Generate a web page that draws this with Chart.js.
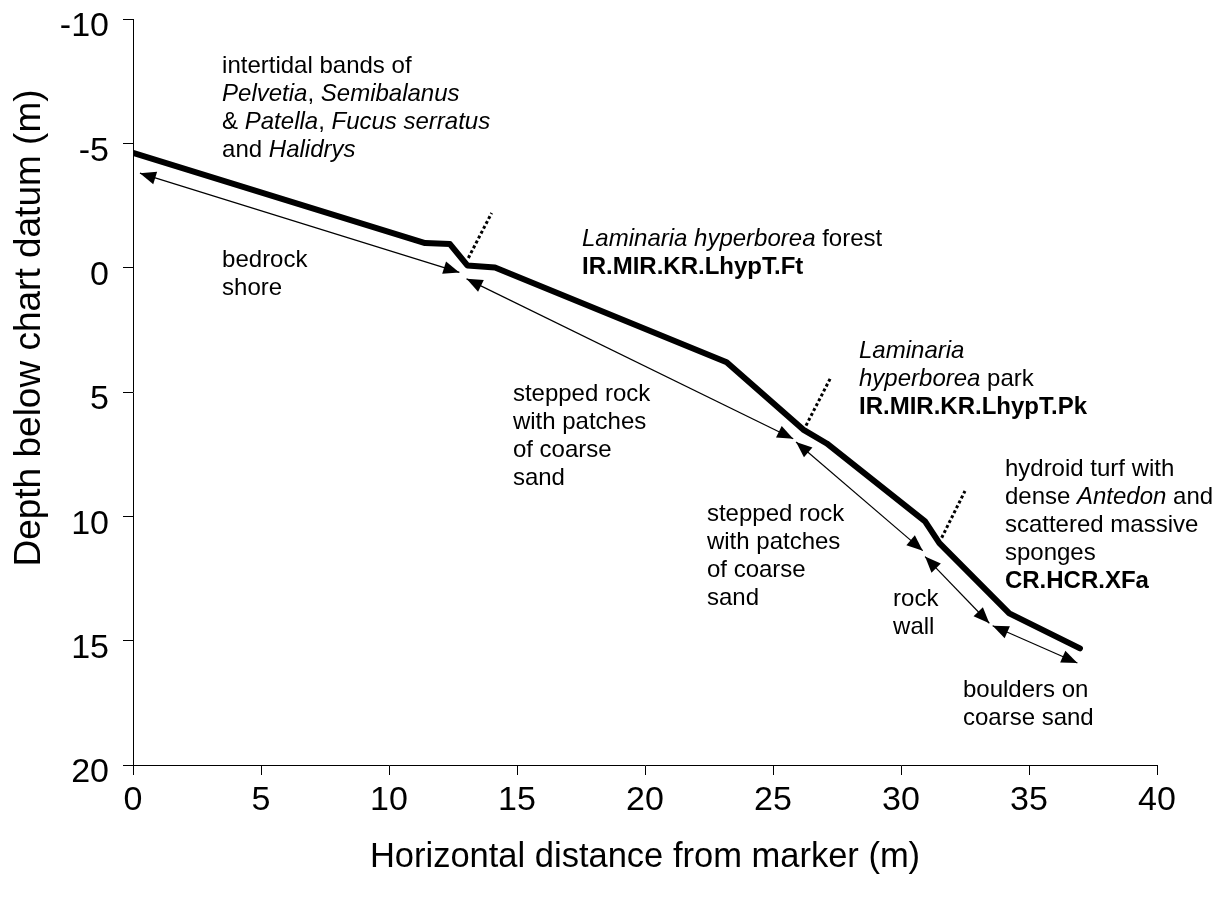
<!DOCTYPE html>
<html><head><meta charset="utf-8">
<script src="https://cdn.jsdelivr.net/npm/chart.js@4/dist/chart.umd.min.js"></script>
<style>html,body{margin:0;padding:0;background:#fff;}canvas{display:block;}</style>
</head><body>
<canvas id="c" width="1228" height="901"></canvas>
<script>
// ---- data (metres) ----
const distanceTicks = [0, 5, 10, 15, 20, 25, 30, 35, 40];
const depthTicks = [-10, -5, 0, 5, 10, 15, 20];

const profileDistance = [0, 11.41, 12.38, 13.06, 14.14, 23.19, 26.18, 27.1, 30.94, 31.5, 34.23, 36.99];
const profileDepth    = [-4.62, -0.99, -0.95, -0.09, -0.01, 3.8, 6.51, 7.07, 10.2, 11.08, 13.9, 15.31];

const arrowStartDistance = [0.27, 13.03, 25.9, 30.94, 33.58];
const arrowStartDepth    = [-3.8, 0.45, 7.01, 11.62, 14.4];
const arrowEndDistance   = [12.75, 25.79, 30.85, 33.45, 36.89];
const arrowEndDepth      = [0.19, 6.88, 11.38, 14.3, 15.9];

const boundaryStartDistance = [13.1, 26.29, 31.59];
const boundaryStartDepth    = [-0.39, 6.35, 10.86];
const boundaryEndDistance   = [14.01, 27.25, 32.5];
const boundaryEndDepth      = [-2.2, 4.43, 8.98];

// annotation anchors (distance, depth of first baseline) and rich text lines
const labelDistance = [3.48, 3.48, 17.54, 14.84, 28.36, 22.42, 34.06, 29.69, 32.42];
const labelDepth    = [-7.84, -0.04, -0.86, 5.37, 3.65, 10.2, 8.39, 13.61, 17.25];
const labelLines = [
  [[['n','intertidal bands of']], [['i','Pelvetia'],['n',', '],['i','Semibalanus']], [['n','& '],['i','Patella'],['n',', '],['i','Fucus serratus']], [['n','and '],['i','Halidrys']]],
  [[['n','bedrock']], [['n','shore']]],
  [[['i','Laminaria hyperborea'],['n',' forest']], [['b','IR.MIR.KR.LhypT.Ft']]],
  [[['n','stepped rock']], [['n','with patches']], [['n','of coarse']], [['n','sand']]],
  [[['i','Laminaria']], [['i','hyperborea'],['n',' park']], [['b','IR.MIR.KR.LhypT.Pk']]],
  [[['n','stepped rock']], [['n','with patches']], [['n','of coarse']], [['n','sand']]],
  [[['n','hydroid turf with']], [['n','dense '],['i','Antedon'],['n',' and']], [['n','scattered massive']], [['n','sponges']], [['b','CR.HCR.XFa']]],
  [[['n','rock']], [['n','wall']]],
  [[['n','boulders on']], [['n','coarse sand']]]
];

const xTitle = 'Horizontal distance from marker (m)';
const yTitle = 'Depth below chart datum (m)';

// ---- build datasets ----
const FAM = '"Liberation Sans", Arial, Helvetica, sans-serif';
const datasets = [];
datasets.push({
  data: profileDistance.map((d, i) => ({x: d, y: profileDepth[i]})),
  borderColor: '#000', borderWidth: 6, pointRadius: 0,
  borderCapStyle: 'round', borderJoinStyle: 'round', tension: 0
});
arrowStartDistance.forEach((d, i) => {
  datasets.push({
    data: [{x: d, y: arrowStartDepth[i]}, {x: arrowEndDistance[i], y: arrowEndDepth[i]}],
    borderColor: '#000', borderWidth: 1.2, pointRadius: 0, arrow: true
  });
});
boundaryStartDistance.forEach((d, i) => {
  datasets.push({
    data: [{x: d, y: boundaryStartDepth[i]}, {x: boundaryEndDistance[i], y: boundaryEndDepth[i]}],
    borderColor: '#000', borderWidth: 3, borderDash: [3, 2.5], pointRadius: 0
  });
});

function head(ctx, tip, from) {
  const ang = Math.atan2(tip.y - from.y, tip.x - from.x);
  const L = 16, W = 6.5;
  ctx.beginPath();
  ctx.moveTo(tip.x, tip.y);
  ctx.lineTo(tip.x - L*Math.cos(ang) + W*Math.sin(ang), tip.y - L*Math.sin(ang) - W*Math.cos(ang));
  ctx.lineTo(tip.x - L*Math.cos(ang) - W*Math.sin(ang), tip.y - L*Math.sin(ang) + W*Math.cos(ang));
  ctx.closePath();
  ctx.fill();
}

const decor = {
  id: 'decor',
  afterDatasetsDraw(chart) {
    const ctx = chart.ctx;
    const xs = chart.scales.x, ys = chart.scales.y;
    ctx.save();
    ctx.fillStyle = '#000';
    chart.data.datasets.forEach((ds, i) => {
      if (!ds.arrow) return;
      const pts = chart.getDatasetMeta(i).data;
      head(ctx, pts[0], pts[1]);
      head(ctx, pts[1], pts[0]);
    });
    ctx.textBaseline = 'alphabetic';
    ctx.textAlign = 'left';
    labelLines.forEach((lines, k) => {
      const x0 = xs.getPixelForValue(labelDistance[k]);
      const y0 = ys.getPixelForValue(labelDepth[k]);
      lines.forEach((segs, li) => {
        let x = x0;
        const y = y0 + li * 28;
        segs.forEach(([st, txt]) => {
          ctx.font = (st === 'i' ? 'italic ' : st === 'b' ? 'bold ' : '') + '24px ' + FAM;
          ctx.fillText(txt, x, y);
          x += ctx.measureText(txt).width;
        });
      });
    });
    // axis titles
    ctx.textAlign = 'center';
    ctx.textBaseline = 'middle';
    ctx.font = '34.5px ' + FAM;
    ctx.fillText(xTitle, (xs.left + xs.right) / 2, 857);
    ctx.translate(30, 328);
    ctx.rotate(-Math.PI / 2);
    ctx.font = '37px ' + FAM;
    ctx.fillText(yTitle, 0, 0);
    ctx.restore();
  }
};

new Chart(document.getElementById('c'), {
  type: 'line',
  data: { datasets },
  options: {
    responsive: false,
    animation: false,
    layout: { padding: { top: 19, right: 71, bottom: 0, left: 0 } },
    plugins: { legend: { display: false }, tooltip: { enabled: false } },
    scales: {
      x: {
        type: 'linear', min: distanceTicks[0], max: distanceTicks[distanceTicks.length - 1],
        afterBuildTicks: s => { s.ticks = distanceTicks.map(v => ({value: v})); },
        ticks: { color: '#000', font: { family: FAM, size: 34 }, padding: 5, maxRotation: 0 },
        grid: { drawOnChartArea: false, drawTicks: true, tickLength: 10, color: '#000' },
        border: { color: '#000', width: 1 },
        afterFit: s => { s.height = 136; s.paddingLeft = 0; s.paddingRight = 0; }
      },
      y: {
        type: 'linear', reverse: true, min: depthTicks[0], max: depthTicks[depthTicks.length - 1],
        afterBuildTicks: s => { s.ticks = depthTicks.map(v => ({value: v})); },
        ticks: { color: '#000', font: { family: FAM, size: 34 }, padding: 14, labelOffset: 8 },
        grid: { drawOnChartArea: false, drawTicks: true, tickLength: 10, color: '#000' },
        border: { color: '#000', width: 1 },
        afterFit: s => { s.width = 133; s.paddingTop = 0; s.paddingBottom = 0; }
      }
    }
  },
  plugins: [decor]
});
</script>
</body></html>
